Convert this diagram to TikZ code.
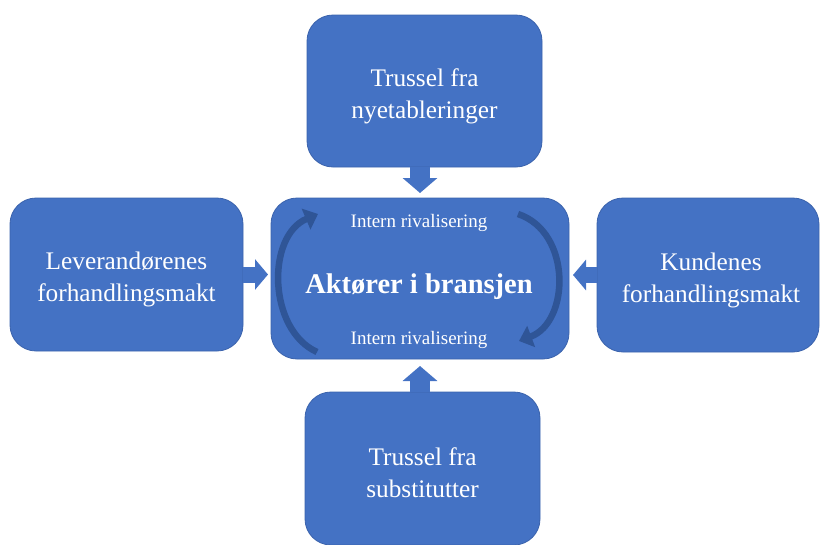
\documentclass[tikz,border=0pt]{standalone}
\usepackage{fontspec}
\setmainfont{Liberation Serif}
\usetikzlibrary{arrows.meta}
\definecolor{boxblue}{RGB}{68,114,196}
\definecolor{boxedge}{RGB}{58,98,172}
\definecolor{arcblue}{RGB}{47,85,151}
\begin{document}
\begin{tikzpicture}[x=1pt,y=-1pt,
  force/.style={draw=boxedge, line width=0.8pt, fill=boxblue, rounded corners=26pt,
    inner sep=0pt, outer sep=0pt},
  forcetext/.style={text=white, align=center, inner sep=0pt,
    font=\fontsize{25.3}{32}\selectfont},
  flow/.style={draw=boxblue, line width=#1, -{Triangle[length=15pt,width=34pt]}},
  flow/.default=18pt,
  rival/.style={draw=arcblue, line width=6.5pt, -{Triangle[length=13pt,width=22pt]}},
  rivaltext/.style={text=white, font=\fontsize{19}{22}\selectfont, anchor=base}]
  \useasboundingbox (0,0) rectangle (820,544);
  \clip (0,0) rectangle (820,544);

  % the five forces
  \node[force, minimum width=235pt, minimum height=152pt] (entrants) at (424.5,91) {};
  \node[force, minimum width=233pt, minimum height=153pt] (suppliers) at (126.5,274.5) {};
  \node[force, minimum width=298pt, minimum height=161pt] (industry) at (420,278.5) {};
  \node[force, minimum width=222pt, minimum height=154pt] (buyers) at (708,275) {};
  \node[force, minimum width=235pt, minimum height=153pt] (substitutes) at (422.5,468.5) {};

  % their captions
  \node[forcetext] (entrantstext) at ([yshift=-5pt]entrants.center)
    {Trussel fra\\nyetableringer};
  \node[forcetext] (supplierstext) at ([yshift=-5pt]suppliers.center)
    {Leverandørenes\\forhandlingsmakt};
  \node[forcetext] (buyerstext) at ([xshift=3pt,yshift=-5pt]buyers.center)
    {Kundenes\\forhandlingsmakt};
  \node[forcetext] (substitutestext) at ([yshift=-4pt]substitutes.center)
    {Trussel fra\\substitutter};

  % rivalry inside the industry
  \draw[rival] (317,352) .. controls (268,330) and (266,236) .. (318,214);
  \draw[rival] (518,214) .. controls (572,232) and (570,322) .. (519,341);
  \node[rivaltext] (rivaltop) at (419,227) {Intern rivalisering};
  \node[rivaltext] (rivalbottom) at (419,344) {Intern rivalisering};
  \node[text=white, anchor=base, font=\bfseries\fontsize{28.5}{32}\selectfont]
    (industrytitle) at (419,293) {Aktører i bransjen};

  % block arrows into the industry
  \draw[flow=20pt, shorten >=5pt] (entrants.south -| industry.north) -- (industry.north);
  \draw[flow=20pt, shorten >=7pt] (substitutes.north -| industry.south) -- (industry.south);
  \draw[flow=16pt, -{Triangle[length=13pt,width=30pt]}, shorten >=3pt]
    (suppliers.east) -- (suppliers.east -| industry.west);
  \draw[flow=16pt, -{Triangle[length=13pt,width=30pt]}, shorten >=4pt]
    (buyers.west) -- (buyers.west -| industry.east);
\end{tikzpicture}
\end{document}
